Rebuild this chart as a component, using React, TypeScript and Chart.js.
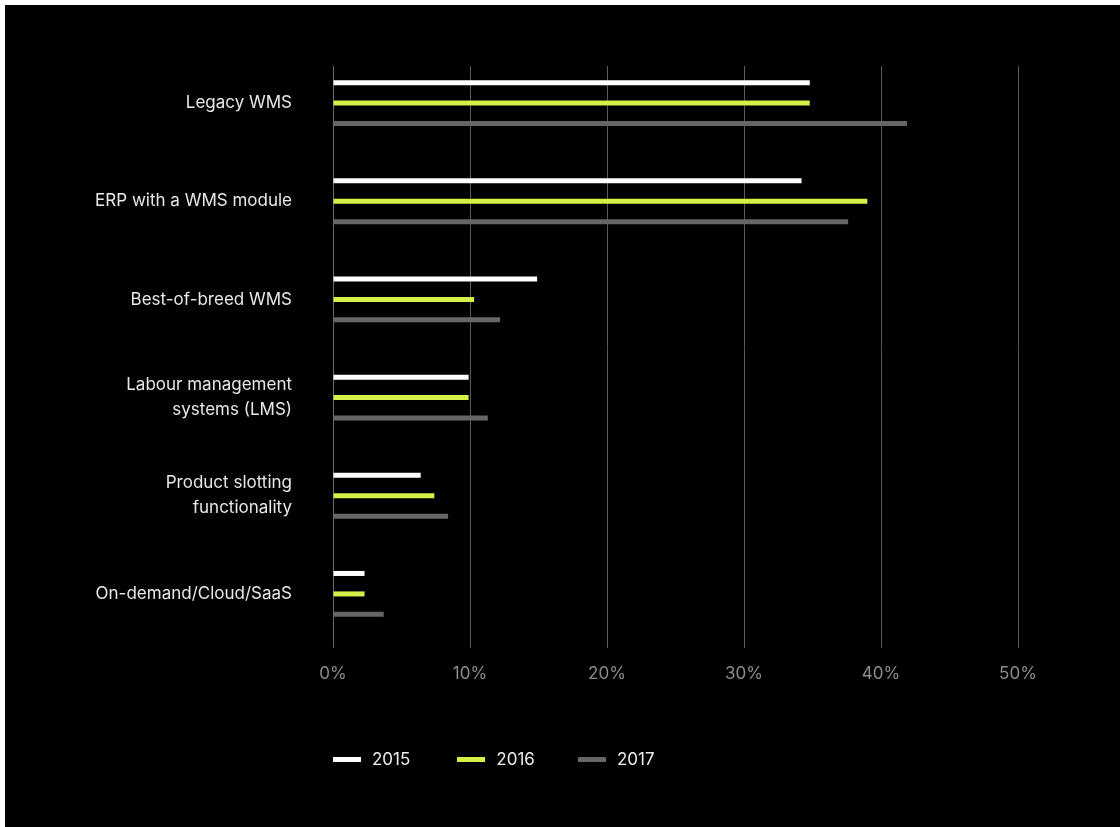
import React, { useEffect, useRef } from "react";
import { Chart, registerables } from "chart.js";

Chart.register(...registerables);

const categories: (string | string[])[] = [
  "Legacy WMS",
  "ERP with a WMS module",
  "Best-of-breed WMS",
  ["Labour management", "systems (LMS)"],
  ["Product slotting", "functionality"],
  "On-demand/Cloud/SaaS",
];
const years = ["2015", "2016", "2017"];
const values2015 = [34.8, 34.2, 14.9, 9.9, 6.4, 2.3];
const values2016 = [34.8, 39.0, 10.3, 9.9, 7.4, 2.3];
const values2017 = [41.9, 37.6, 12.2, 11.3, 8.4, 3.7];
const seriesColors = ["#ffffff", "#d4f046", "#666666"];
const xMax = 50;
const xStep = 10;

const FONT = "Inter, 'Noto Sans', 'DejaVu Sans', sans-serif";

const topGapPlugin = {
  id: "topGap",
  beforeDatasetsDraw(chart: any) {
    const { ctx, chartArea } = chart;
    ctx.save();
    ctx.fillStyle = "#000000";
    ctx.fillRect(chartArea.left - 3, chartArea.top - 1, chartArea.right - chartArea.left + 6, 13);
    ctx.restore();
  },
};

export default function App() {
  const canvasRef = useRef<HTMLCanvasElement | null>(null);

  useEffect(() => {
    if (!canvasRef.current) return;
    const series = [values2015, values2016, values2017];
    const chart = new Chart(canvasRef.current, {
      type: "bar",
      data: {
        labels: categories,
        datasets: years.map((y, i) => ({
          label: y,
          data: series[i],
          backgroundColor: seriesColors[i],
          borderWidth: 0,
          categoryPercentage: 0.625,
          barPercentage: 0.245,
        })),
      },
      options: {
        indexAxis: "y",
        animation: false,
        responsive: true,
        maintainAspectRatio: false,
        layout: { padding: { top: 49, right: 102, bottom: 0, left: 0 } },
        plugins: {
          legend: { display: false },
          tooltip: { enabled: false },
        },
        scales: {
          x: {
            min: 0,
            max: xMax,
            afterFit: (scale: any) => {
              scale.height = 184;
            },
            ticks: {
              stepSize: xStep,
              color: "#8c8c8c",
              padding: 16,
              font: { family: FONT, size: 17 },
              callback: (v: any) => `${v}%`,
            },
            grid: {
              color: "#5a5a5a",
              lineWidth: 1,
              drawTicks: true,
              tickLength: 5,
            },
            border: { display: false },
          },
          y: {
            afterFit: (scale: any) => {
              scale.width = 328;
              scale.paddingTop = 0;
              scale.paddingBottom = 0;
            },
            ticks: {
              color: "#e8e8e8",
              padding: 41,
              font: { family: FONT, size: 17, lineHeight: 1.47 },
            },
            grid: { display: false, drawTicks: false },
            border: { display: true, color: "#6a6a6a", width: 1 },
          },
        },
      },
      plugins: [topGapPlugin],
    });
    return () => chart.destroy();
  }, []);

  return (
    <div
      style={{
        position: "absolute",
        left: 5,
        top: 5,
        width: 1115,
        height: 822,
        background: "#000000",
        fontFamily: FONT,
      }}
    >
      <div style={{ position: "absolute", left: 0, top: 0, width: 1115, height: 822 }}>
        <canvas ref={canvasRef} />
      </div>
      <div
        style={{
          position: "absolute",
          left: 328,
          top: 742,
          display: "flex",
          alignItems: "center",
          height: 24,
        }}
      >
        {years.map((y, i) => (
          <div
            key={y}
            style={{ display: "flex", alignItems: "center", marginRight: i === 0 ? 47 : 43 }}
          >
            <span
              style={{
                display: "inline-block",
                width: 28,
                height: 5,
                background: seriesColors[i],
                marginRight: 11,
              }}
            />
            <span style={{ color: "#ececec", fontSize: 17, lineHeight: "24px" }}>{y}</span>
          </div>
        ))}
      </div>
    </div>
  );
}
